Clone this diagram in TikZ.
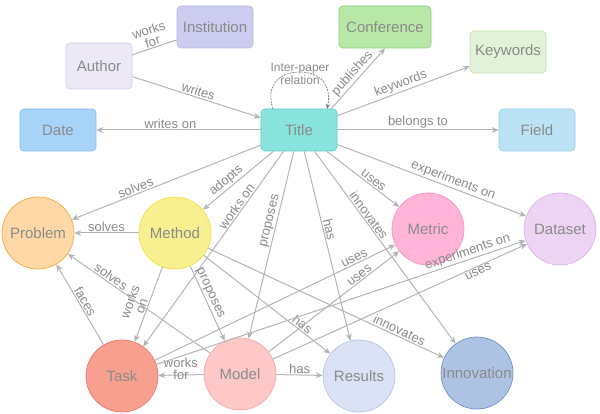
\documentclass[tikz,border=0pt]{standalone}
\usepackage{fontspec}
\setmainfont{Liberation Sans}
\usetikzlibrary{arrows.meta}
\definecolor{tg}{HTML}{8A8A8A}
\definecolor{eg}{HTML}{B4B4B4}
\definecolor{fAu}{HTML}{ECE8F6}\definecolor{dAu}{HTML}{D4CCEA}
\definecolor{fIn}{HTML}{CCCCF0}\definecolor{dIn}{HTML}{B8B8E4}
\definecolor{fCo}{HTML}{B8E8A8}\definecolor{dCo}{HTML}{88C878}
\definecolor{fKw}{HTML}{E2F2D8}\definecolor{dKw}{HTML}{C4E0B4}
\definecolor{fDa}{HTML}{A8D4FA}\definecolor{dDa}{HTML}{80B8EC}
\definecolor{fTi}{HTML}{88E4DC}\definecolor{dTi}{HTML}{60CCC4}
\definecolor{fFi}{HTML}{BCE2F6}\definecolor{dFi}{HTML}{90CCEC}
\definecolor{fPr}{HTML}{FFD8A8}\definecolor{dPr}{HTML}{F8A838}
\definecolor{fMe}{HTML}{F8F090}\definecolor{dMe}{HTML}{EEE040}
\definecolor{fMt}{HTML}{FFB4D8}\definecolor{dMt}{HTML}{F890C4}
\definecolor{fDs}{HTML}{ECD4F2}\definecolor{dDs}{HTML}{DCB4EC}
\definecolor{fTa}{HTML}{F8A090}\definecolor{dTa}{HTML}{EC7868}
\definecolor{fMo}{HTML}{FFC8C8}\definecolor{dMo}{HTML}{F8A8A8}
\definecolor{fRe}{HTML}{DCE2F6}\definecolor{dRe}{HTML}{B4C4EC}
\definecolor{fIv}{HTML}{AEC2E4}\definecolor{dIv}{HTML}{7090D0}
\begin{document}
\begin{tikzpicture}[x=1pt,y=-1pt,
 box/.style={draw,rounded corners=4pt,minimum width=76pt,minimum height=42pt,text=tg,font=\fontsize{15}{17}\selectfont,line width=0.6pt},
 circ/.style={draw,circle,minimum size=72pt,inner sep=0pt,text=tg,font=\fontsize{15}{17}\selectfont,line width=0.7pt},
 e/.style={draw=eg,line width=1pt,-{Stealth[length=7pt,width=6pt]}},
 l/.style={font=\fontsize{13}{13}\selectfont,text=tg,sloped,above,inner sep=1pt}]
\useasboundingbox (0,0) rectangle (600,414);
\node[box,fill=fAu,draw=dAu,minimum width=66pt,minimum height=46pt] (author) at (99,66) {Author};
\node[box,fill=fIn,draw=dIn] (inst) at (215,27) {Institution};
\node[box,fill=fCo,draw=dCo,minimum width=92pt] (conf) at (385,27) {Conference};
\node[box,fill=fKw,draw=dKw] (kw) at (508,52) {Keywords};
\node[box,fill=fDa,draw=dDa] (date) at (58,130) {Date};
\node[box,fill=fTi,draw=dTi] (title) at (299,130) {Title};
\node[box,fill=fFi,draw=dFi] (field) at (537,130) {Field};
\node[circ,fill=fPr,draw=dPr] (prob) at (38,233) {Problem};
\node[circ,fill=fMe,draw=dMe] (meth) at (175,233) {Method};
\node[circ,fill=fMt,draw=dMt] (metric) at (428,229) {Metric};
\node[circ,fill=fDs,draw=dDs] (data) at (560,229) {Dataset};
\node[circ,fill=fTa,draw=dTa] (task) at (122,376) {Task};
\node[circ,fill=fMo,draw=dMo] (model) at (240,374) {Model};
\node[circ,fill=fRe,draw=dRe] (res) at (359,376) {Results};
\node[circ,fill=fIv,draw=dIv] (innov) at (477,373) {Innovation};
% top edges
\draw[draw=eg,line width=1pt] (author) -- node[l,align=center,font=\fontsize{13}{12}\selectfont]{works\\for} (inst);
\draw[e] (author) -- node[l]{writes} (title);
\draw[e] (title) -- node[l,pos=0.55]{writes on} (date);
\draw[e] ([xshift=-6pt]title.north east) -- node[l]{publishes} (conf.south);
\draw[e] (title) -- node[l]{keywords} (kw);
\draw[e] (title) -- node[l]{belongs to} (field);
\draw[e,draw=black!55,line width=0.6pt,dash pattern=on 2pt off 1pt,-{Stealth[length=5pt,width=4pt]}] (273,109) .. controls (265,85) and (280,72) .. (300,72) .. controls (320,72) and (332,85) .. (327,109);
\node[font=\fontsize{12}{13}\selectfont,text=tg,align=center] (ipr) at (300,74) {Inter-paper\\relation};
% title to lower
\draw[e] (title) -- node[l,pos=0.65]{solves} (prob);
\draw[e] (title) -- node[l,pos=0.6]{adopts} (meth);
\draw[e] (title) -- node[l,pos=0.3]{works on} (task);
\draw[e] (title) -- node[l,pos=0.38]{proposes} (model);
\draw[e] (title) -- node[l,pos=0.42]{has} (res);
\draw[e] (title) -- node[l,pos=0.35]{innovates} (innov);
\draw[e] (title) -- node[l,pos=0.6]{uses} (metric);
\draw[e] (title) -- node[l,pos=0.6]{experiments on} (data);
% method
\draw[e] (meth) -- node[l]{solves} (prob);
\draw[e] (meth) -- node[l,align=center,font=\fontsize{13}{12}\selectfont,pos=0.55]{works\\on} (task);
\draw[e] (meth) -- node[l,pos=0.4]{proposes} (model);
\draw[e] (meth) -- node[l,pos=0.75]{has} (res);
\draw[e] (meth) -- node[l,pos=0.8]{innovates} (innov);
% lower
\draw[e] (model) -- node[l,pos=0.72]{solves} (prob);
\draw[e] (task) -- node[l]{faces} (prob);
\draw[e] (model) -- node[l,align=center,font=\fontsize{13}{12}\selectfont,above=-6pt]{works\\for} (task);
\draw[e] (model) -- node[l]{has} (res);
\draw[e] (task) -- node[l,pos=0.84]{uses} (metric);
\draw[e] (task) -- node[l,pos=0.85]{experiments on} (data);
\draw[e] (model) -- node[l,pos=0.72]{uses} (metric);
\draw[e] (model) -- node[l,pos=0.8,below]{uses} (data);
\end{tikzpicture}
\end{document}
